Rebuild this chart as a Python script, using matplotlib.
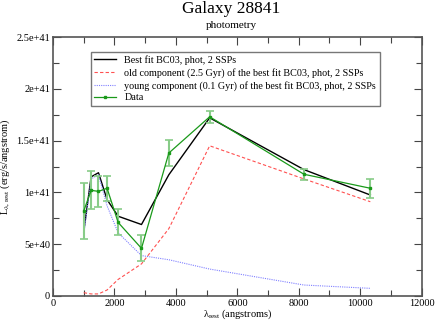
import matplotlib
matplotlib.use("Agg")
import matplotlib.pyplot as plt
from matplotlib.ticker import MultipleLocator

# Data
wave = [1000, 1240, 1480, 1760, 2120, 2880, 3770, 5100, 8170, 10330]
data_flux = [8.2e40, 10.2e40, 10.1e40, 10.4e40, 7.1e40, 4.6e40, 13.8e40, 17.3e40, 11.75e40, 10.4e40]
data_err = [2.7e40, 1.85e40, 1.5e40, 1.2e40, 1.25e40, 1.25e40, 1.25e40, 0.6e40, 0.55e40, 0.9e40]
best_fit = [6.2e40, 11.5e40, 11.9e40, 9.3e40, 7.7e40, 6.9e40, 11.7e40, 17.2e40, 12.2e40, 9.75e40]
old_comp = [0.32e40, 0.2e40, 0.2e40, 0.58e40, 1.6e40, 3.1e40, 6.5e40, 14.5e40, 11.3e40, 9.1e40]
young_comp = [5.9e40, 11.3e40, 11.7e40, 8.7e40, 6.1e40, 3.9e40, 3.5e40, 2.6e40, 1.06e40, 0.74e40]

title = "Galaxy 28841"
subtitle = "photometry"
xticks = [0, 2000, 4000, 6000, 8000, 10000, 12000]
yticks = [0, 5e40, 1e41, 1.5e41, 2e41, 2.5e41]
ytick_labels = ["0", "5e+40", "1e+41", "1.5e+41", "2e+41", "2.5e+41"]

plt.rcParams['font.family'] = ['Liberation Serif', 'DejaVu Serif']
plt.rcParams['mathtext.fontset'] = 'custom'
plt.rcParams['mathtext.rm'] = 'Liberation Serif'

fig = plt.figure(figsize=(4.36, 3.23), dpi=100)
ax = fig.add_axes([0.1216, 0.0836, 0.8454, 0.8018])

ax.plot(wave, best_fit, color='black', lw=1.0, label='Best fit BC03, phot, 2 SSPs')
ax.plot(wave, old_comp, color='#ff5050', lw=0.8, ls=(0, (3, 2)),
        label='old component (2.5 Gyr) of the best fit BC03, phot, 2 SSPs')
ax.plot(wave, young_comp, color='#8080ff', lw=0.8, ls=(0, (1, 1)),
        label='young component (0.1 Gyr) of the best fit BC03, phot, 2 SSPs')
ax.errorbar(wave, data_flux, yerr=data_err, fmt='none', ecolor='#88cc88',
            elinewidth=1.5, capsize=3, capthick=1.2)
ax.plot(wave, data_flux, color='#1a9a1a', lw=0.9, marker='s', ms=2, label='Data')

ax.set_xlim(0, 12000)
ax.set_ylim(0, 2.5e41)
ax.set_xticks(xticks)
ax.set_xticklabels([str(t) for t in xticks])
ax.set_yticks(yticks)
ax.set_yticklabels(ytick_labels)
ax.xaxis.set_minor_locator(MultipleLocator(1000))
ax.yaxis.set_minor_locator(MultipleLocator(2.5e40))
ax.tick_params(which='both', direction='in', top=True, right=True, labelsize=7.5,
               color='#444444', pad=2)
ax.tick_params(which='major', length=6, width=0.8)
ax.tick_params(which='minor', length=4, width=0.8)
for s in ax.spines.values():
    s.set_color('#555555')
    s.set_linewidth(1.2)

ax.set_xlabel('λ$_{\\mathrm{rest}}$ (angstroms)', fontsize=7.5, labelpad=0)
ax.set_ylabel('L$_{\\mathrm{\u03bb,rest}}$ (erg/s/angstrom)', fontsize=7.5, labelpad=3)

fig.text(0.53, 0.972, title, ha='center', va='center', fontsize=12.5)
fig.text(0.53, 0.922, subtitle, ha='center', va='center', fontsize=8)

leg = ax.legend(loc='upper left', bbox_to_anchor=(0.088, 0.963), fontsize=7.3,
                frameon=True, fancybox=False, edgecolor='#555555',
                handlelength=2.2, borderpad=0.35, labelspacing=0.28, handletextpad=0.8)
leg.get_frame().set_linewidth(1.0)

fig.savefig('out.png', dpi=100)
